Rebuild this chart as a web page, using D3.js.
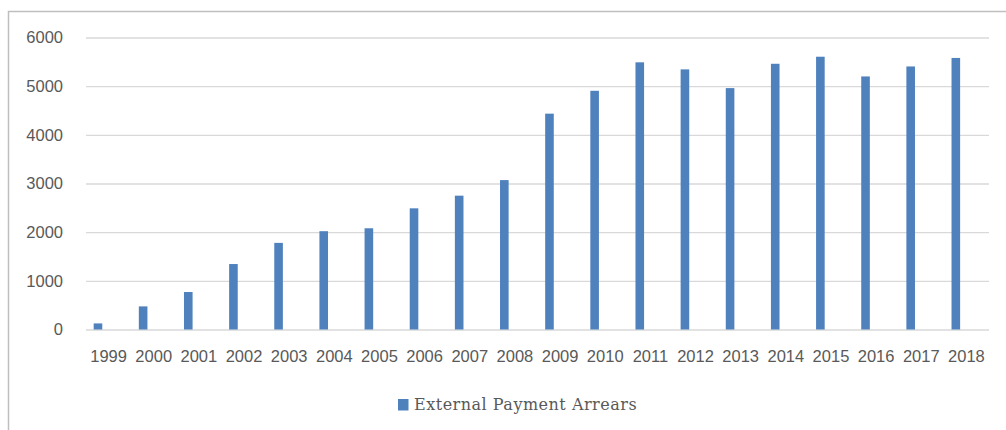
<!DOCTYPE html>
<html>
<head>
<meta charset="utf-8">
<script src="https://cdn.jsdelivr.net/npm/d3@7"></script>
<style>
  body { margin: 0; background: #fff; }
  .tick text { fill: #595959; }
</style>
</head>
<body>
<div id="chart"></div>
<script>
var years = ["1999", "2000", "2001", "2002", "2003", "2004", "2005", "2006", "2007", "2008",
             "2009", "2010", "2011", "2012", "2013", "2014", "2015", "2016", "2017", "2018"];
var arrears = [125, 475, 770, 1345, 1780, 2020, 2080, 2490, 2750, 3070,
               4435, 4905, 5490, 5345, 4960, 5460, 5605, 5200, 5405, 5580];
var yTicks = [0, 1000, 2000, 3000, 4000, 5000, 6000];
var seriesName = "External Payment Arrears";

var W = 1006, H = 430;
var margin = {top: 37.5, left: 86, right: 17, bottom: 100.5};
var width = W - margin.left - margin.right,
    height = H - margin.top - margin.bottom;

var svg = d3.select("#chart").append("svg")
    .attr("width", W)
    .attr("height", H);

// chart frame (only left and top edges show)
svg.append("path")
    .attr("d", "M8.5," + H + "V11.5H" + W)
    .attr("fill", "none")
    .attr("stroke", "#bfbfbf")
    .attr("stroke-width", 1.5);

var g = svg.append("g")
    .attr("transform", "translate(" + margin.left + "," + margin.top + ")");

var x = d3.scaleBand()
    .domain(years)
    .range([0, width]);

var y = d3.scaleLinear()
    .domain([0, 6000])
    .range([height, 0]);

// gridlines + y labels
var yAxis = g.append("g")
    .call(d3.axisLeft(y).tickValues(yTicks).tickSize(-width).tickPadding(23).tickFormat(d3.format("d")));
yAxis.select(".domain").remove();
yAxis.selectAll(".tick line").attr("stroke", "#d9d9d9").attr("stroke-width", 1.3);
yAxis.selectAll(".tick text")
    .style("font-family", "'Liberation Sans', Arial, sans-serif")
    .style("font-size", "16.5px");

// x labels
var xAxis = g.append("g")
    .attr("transform", "translate(0," + height + ")")
    .call(d3.axisBottom(x).tickSize(0).tickPadding(21));
xAxis.select(".domain").remove();
xAxis.selectAll(".tick text")
    .style("font-family", "'Liberation Sans', Arial, sans-serif")
    .style("font-size", "16.5px");

// bars sit left of the category centre
var barW = 8.6, barShift = -10.6;
g.selectAll(".bar")
    .data(arrears)
    .enter().append("rect")
    .attr("class", "bar")
    .attr("x", function(d, i) { return x(years[i]) + x.bandwidth() / 2 + barShift - barW / 2; })
    .attr("y", function(d) { return y(d); })
    .attr("width", barW)
    .attr("height", function(d) { return height - y(d); })
    .attr("fill", "#4f81bd");

// legend
var legend = svg.append("g").attr("transform", "translate(398,399)");
legend.append("rect")
    .attr("width", 10.5)
    .attr("height", 11.5)
    .attr("fill", "#4f81bd");
legend.append("text")
    .attr("x", 16)
    .attr("y", 11)
    .attr("fill", "#595959")
    .style("font-family", "'DejaVu Serif', serif")
    .style("font-size", "16px")
    .style("letter-spacing", "0.5px")
    .text(seriesName);
</script>
</body>
</html>
